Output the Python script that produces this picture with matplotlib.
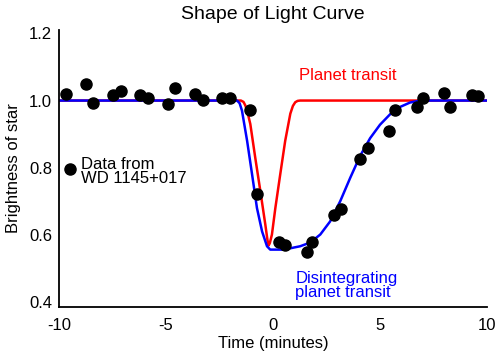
import matplotlib
matplotlib.use("Agg")
import matplotlib.pyplot as plt

plt.rcParams['font.family'] = ['Liberation Sans', 'DejaVu Sans']
plt.rcParams['axes.unicode_minus'] = False

# observed points (time in minutes, relative brightness)
obs_t = [-9.69, -8.76, -8.40, -7.48, -7.09, -6.22, -5.83, -4.92, -4.56, -3.66,
         -3.27, -2.38, -1.99, -1.06, -0.75, 0.26, 0.57, 1.59, 1.82, 2.83,
         3.17, 4.07, 4.46, 5.44, 5.70, 6.72, 7.00, 8.00, 8.28, 9.29, 9.58]
obs_b = [1.020, 1.048, 0.992, 1.018, 1.027, 1.016, 1.007, 0.990, 1.037, 1.020,
         1.003, 1.008, 1.007, 0.972, 0.722, 0.578, 0.571, 0.548, 0.580, 0.660,
         0.678, 0.827, 0.860, 0.908, 0.972, 0.980, 1.007, 1.022, 0.982, 1.018,
         1.015]

# model curve for an ordinary planet transit
planet_t = [-10, -1.50, -1.38, -1.29, -1.18, -1.06, -0.83, -0.59, -0.36, -0.26,
            -0.21, -0.15, -0.05, 0.11, 0.34, 0.57, 0.81, 0.93, 1.04, 1.15,
            1.27, 10]
planet_b = [1.0, 1.0, 0.996, 0.985, 0.962, 0.930, 0.830, 0.730, 0.631, 0.585,
            0.568, 0.575, 0.601, 0.680, 0.781, 0.880, 0.961, 0.984, 0.995,
            0.999, 1.0, 1.0]

# model curve for a disintegrating planet
disint_t = [-10, -1.68, -1.56, -1.45, -1.21, -0.98, -0.75, -0.51, -0.28, -0.13,
            0.57, 0.81, 1.27, 1.74, 2.21, 2.67, 3.14, 3.61, 4.07, 4.54, 5.00,
            5.47, 5.94, 6.40, 6.87, 10]
disint_b = [1.0, 1.0, 0.992, 0.970, 0.880, 0.781, 0.680, 0.610, 0.566, 0.556,
            0.556, 0.560, 0.566, 0.577, 0.601, 0.640, 0.700, 0.770, 0.835,
            0.888, 0.928, 0.959, 0.981, 0.994, 1.0, 1.0]

fig = plt.figure(figsize=(5, 3.56), dpi=100)
ax = fig.add_axes([0.118, 0.1376, 0.856, 0.778])

ax.plot(planet_t, planet_b, color='#ff0000', lw=1.8)
ax.plot(disint_t, disint_b, color='#0000ff', lw=1.8)
ax.plot(obs_t, obs_b, 'o', color='black', ms=8, zorder=5)

# legend entry for the data
ax.plot([-9.49], [0.795], 'o', color='black', ms=8, clip_on=False)
ax.text(-8.95, 0.788, 'Data from\nWD 1145+017', fontsize=12, va='center',
        ha='left', linespacing=0.9)
ax.text(3.51, 1.075, 'Planet transit', color='#ff0000', fontsize=12,
        ha='center', va='center')
ax.text(1.04, 0.45, 'Disintegrating\nplanet transit', color='#0000ff',
        fontsize=12, ha='left', va='center', linespacing=0.9)

ax.set_xlim(-10, 10)
ax.set_ylim(0.385, 1.21)
ax.set_xticks([-10, -5, 0, 5, 10])
ax.set_yticks([0.4, 0.6, 0.8, 1.0, 1.2])
ax.set_yticklabels(['0.4', '0.6', '0.8', '1.0', '1.2'])
ax.tick_params(length=0, labelsize=12)
ax.tick_params(axis='x', pad=8)
ax.tick_params(axis='y', pad=5)
for s in ['top', 'right']:
    ax.spines[s].set_visible(False)
for s in ['left', 'bottom']:
    ax.spines[s].set_linewidth(1.3)

ax.set_title('Shape of Light Curve', fontsize=14, pad=8)
ax.set_xlabel('Time (minutes)', fontsize=12, labelpad=2)
ax.set_ylabel('Brightness of star', fontsize=12, labelpad=6)

fig.savefig('out.png', dpi=100)
